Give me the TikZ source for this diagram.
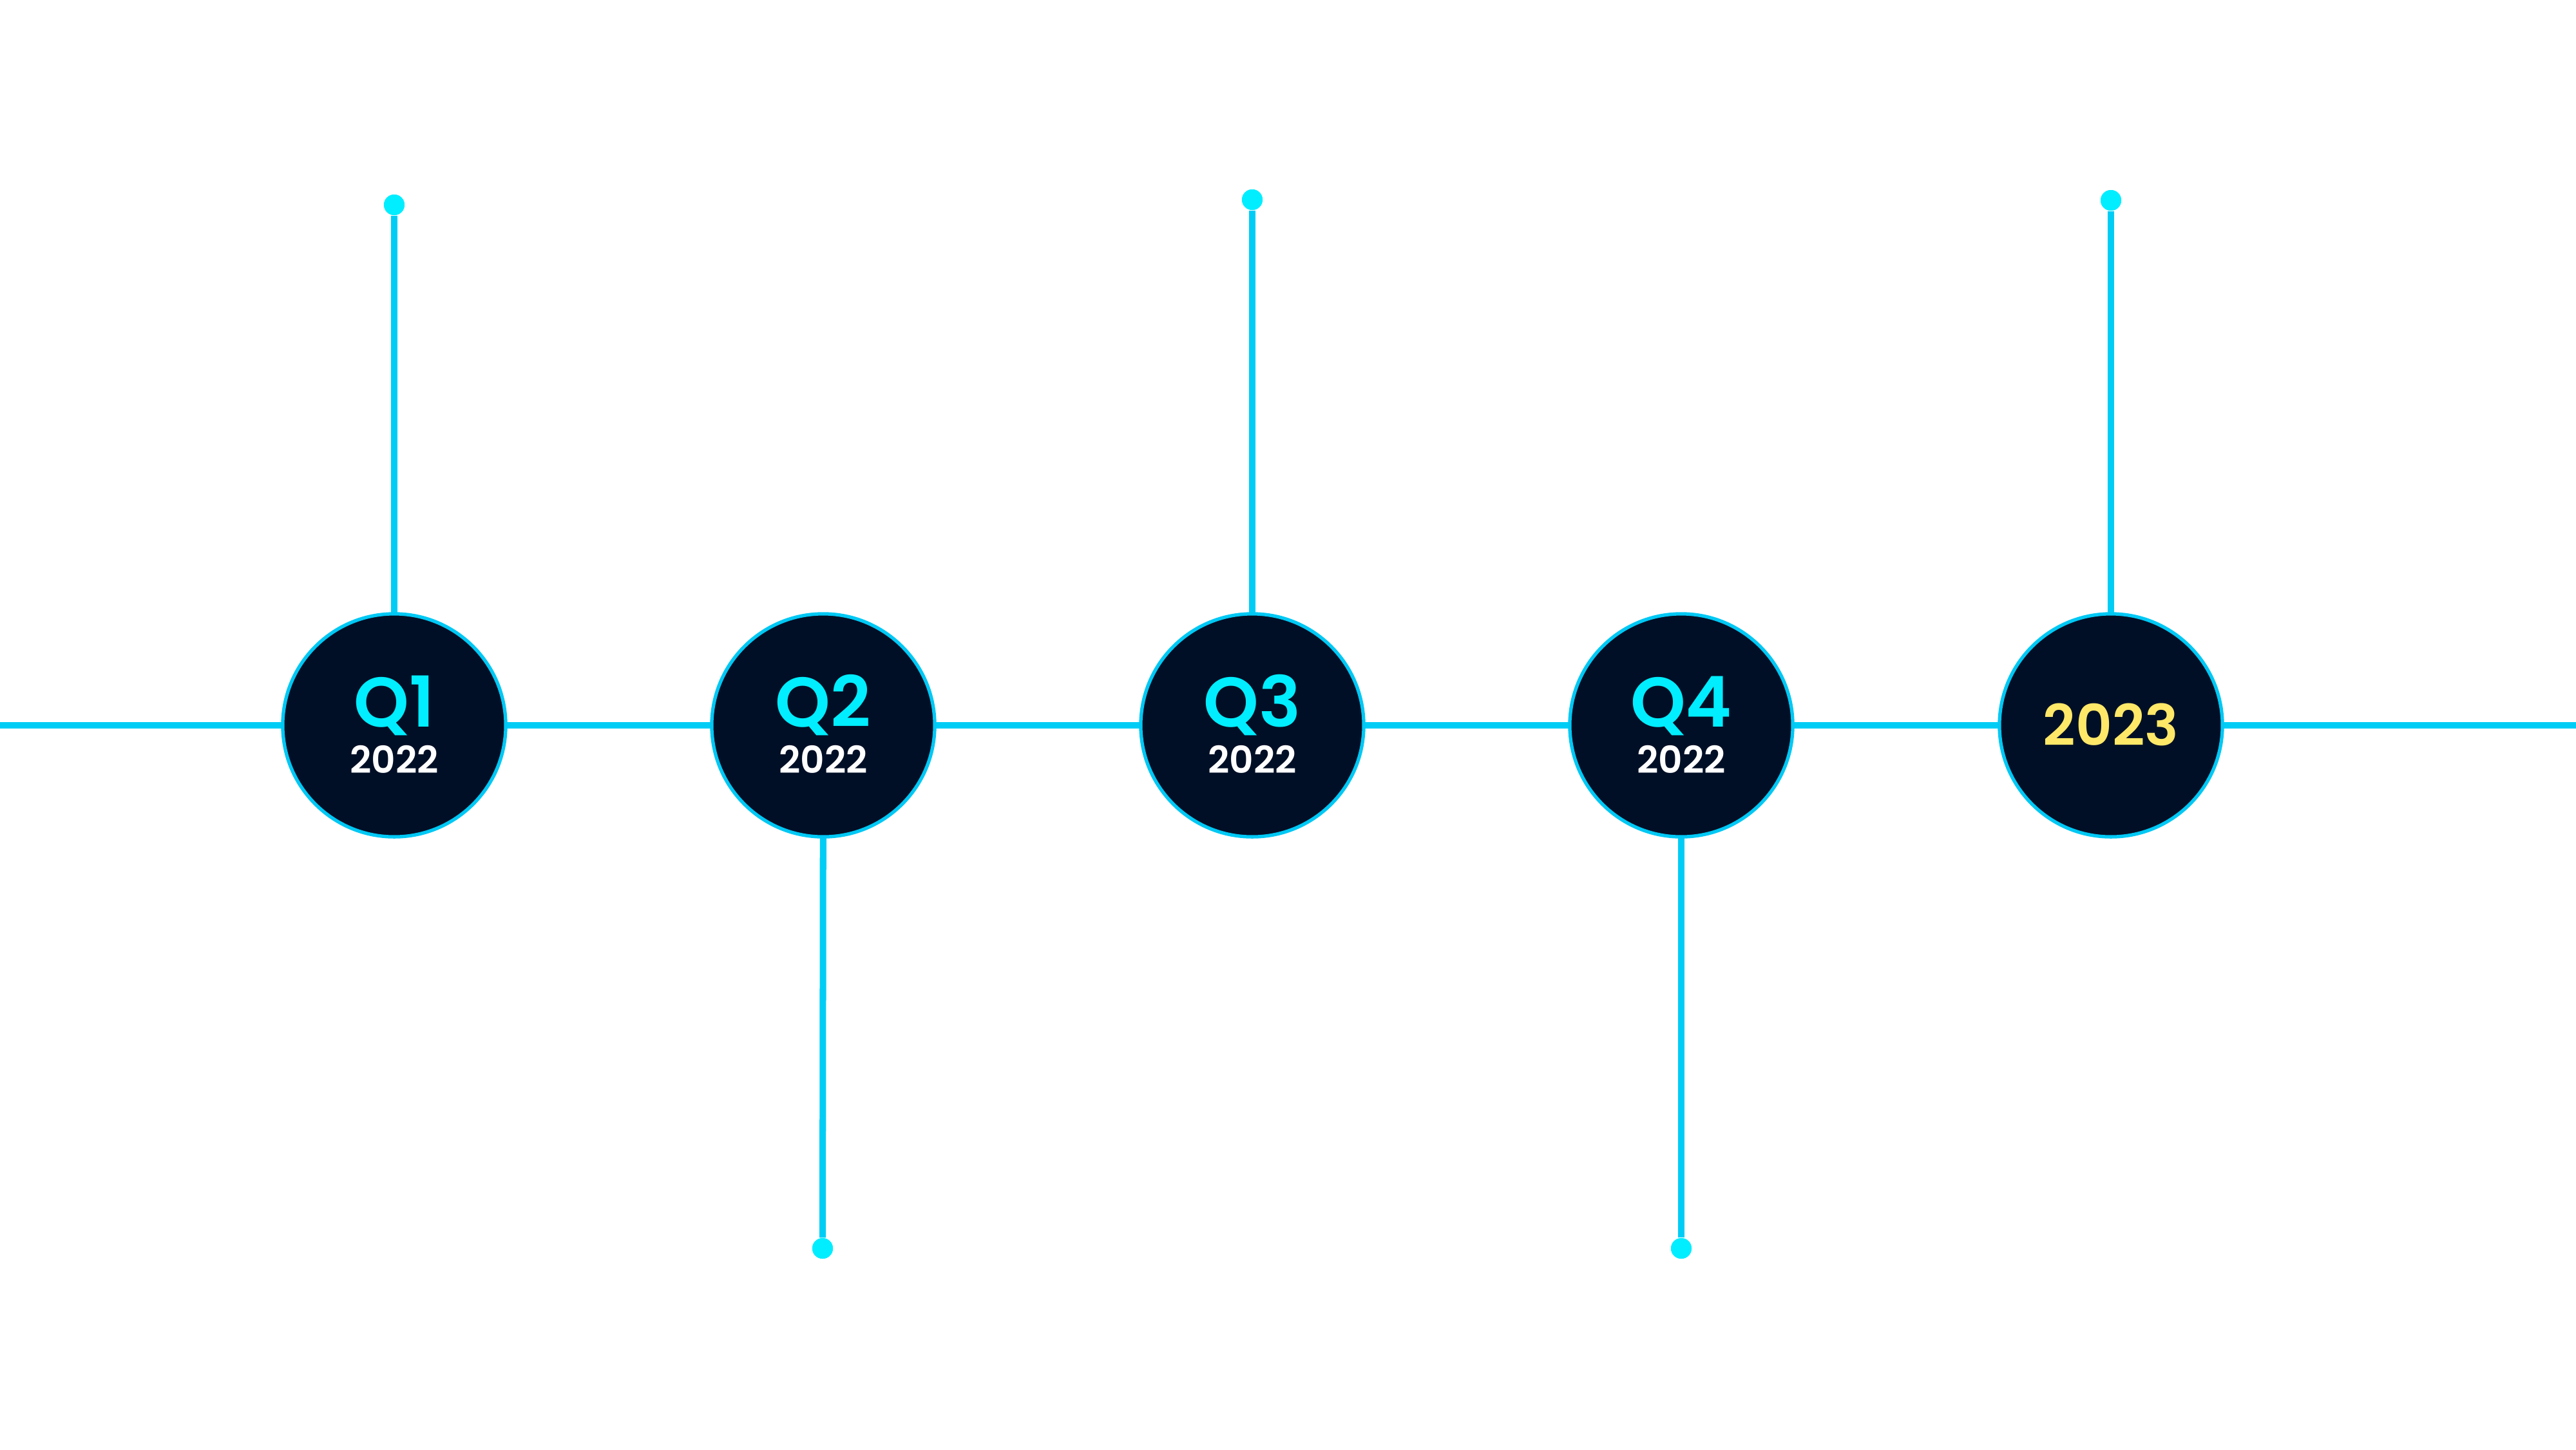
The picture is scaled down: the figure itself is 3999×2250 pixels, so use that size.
\documentclass[tikz,border=0pt]{standalone}
\usepackage{fontspec}
\setmainfont{Poppins}
\IfFontExistsTF{Poppins SemiBold}
  {\newfontfamily\labelfont{Poppins SemiBold}}
  {\IfFontExistsTF{Poppins Medium}
    {\newfontfamily\labelfont{Poppins Medium}[FakeBold=0.6]}
    {\newfontfamily\labelfont{Poppins}[FakeBold=1.5]}}
\definecolor{linecol}{HTML}{00CDF6}
\definecolor{dotcol}{HTML}{00EEFF}
\definecolor{navy}{HTML}{000F26}
\definecolor{navyedge}{HTML}{00030C}
\definecolor{ringcol}{HTML}{00C8F4}
\definecolor{qcyan}{HTML}{00EEFF}
\definecolor{yearyellow}{HTML}{FFE868}
\pgfdeclareradialshading{ballshade}{\pgfpoint{0bp}{0bp}}{color(0bp)=(navy); color(43bp)=(navy); color(50bp)=(navyedge)}
\begin{document}
\begin{tikzpicture}[x=0.01cm,y=-0.01cm,
  stage/.style={circle, minimum size=3.46cm, inner sep=0pt, shading=ballshade, draw=ringcol, line width=1.5pt},
  connector/.style={draw=linecol, line width=2.85pt},
  enddot/.style={circle, fill=dotcol, minimum size=0.32cm, inner sep=0pt},
  qlabel/.style={anchor=base, inner sep=0pt, text=qcyan, font=\labelfont\fontsize{31}{31}\selectfont},
  ylabel/.style={anchor=base, inner sep=0pt, text=white, font=\labelfont\fontsize{16.5}{16.5}\selectfont},
  biglabel/.style={anchor=base, inner sep=0pt, text=yearyellow, font=\labelfont\fontsize{25}{25}\selectfont}]
\useasboundingbox (0,0) rectangle (3999,2250);
\fill[white] (0,0) rectangle (3999,2250);
% end coordinates
\coordinate (left) at (0,1126);
\coordinate (right) at (3999,1126);
% dots
\node[enddot] (d1) at (612,318) {};
\node[enddot] (d2) at (1277,1938) {};
\node[enddot] (d3) at (1944,310) {};
\node[enddot] (d4) at (2610,1938) {};
\node[enddot] (d5) at (3277,311) {};
% circle centres
\path (612,1126) coordinate (p1) (1278,1126) coordinate (p2) (1944,1126) coordinate (p3) (2610,1126) coordinate (p4) (3277,1126) coordinate (p5);
% connectors
\draw[connector] (left) -- (p1) -- (p2) -- (p3) -- (p4) -- (p5) -- (right);
\draw[connector] (d1) -- (p1);
\draw[connector] (d2) -- (p2);
\draw[connector] (d3) -- (p3);
\draw[connector] (d4) -- (p4);
\draw[connector] (d5) -- (p5);
\node[enddot] at (d1) {};
\node[enddot] at (d2) {};
\node[enddot] at (d3) {};
\node[enddot] at (d4) {};
\node[enddot] at (d5) {};
% stages
\node[stage] (q1) at (p1) {};
\node[stage] (q2) at (p2) {};
\node[stage] (q3) at (p3) {};
\node[stage] (q4) at (p4) {};
\node[stage] (y23) at (p5) {};
% labels
\foreach \n/\t in {q1/Q1,q2/Q2,q3/Q3,q4/Q4}{
  \node[qlabel] (\n t) at ([yshift=-0.02cm]\n.center) {\t};
  \node[ylabel] (\n y) at ([yshift=-0.74cm]\n.center) {2022};
}
\node[biglabel] (y23t) at ([yshift=-0.31cm]y23.center) {2023};
\end{tikzpicture}
\end{document}
